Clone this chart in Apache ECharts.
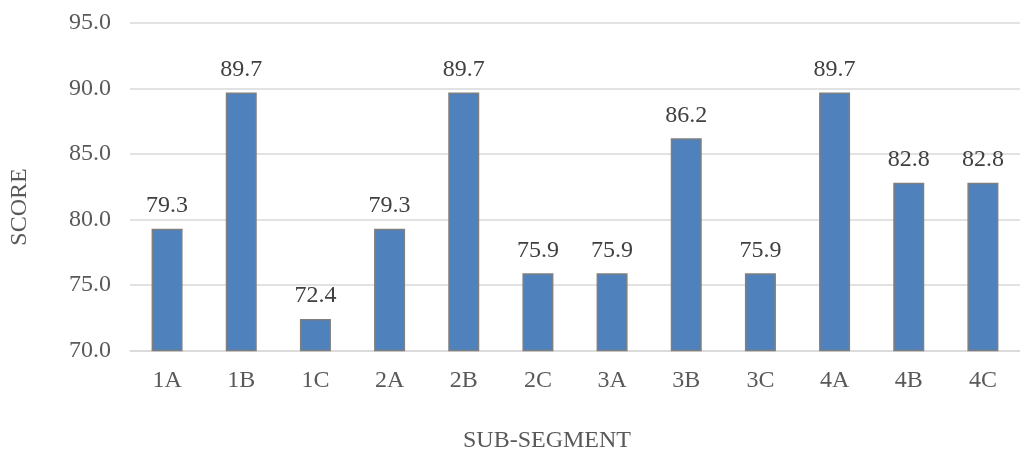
<!DOCTYPE html>
<html><head><meta charset="utf-8">
<script src="https://cdn.jsdelivr.net/npm/echarts@6/dist/echarts.min.js"></script>
<style>html,body{margin:0;padding:0;background:#fff}#c{width:1020px;height:454px}</style>
</head><body><div id="c"></div>
<script>
const categories = ['1A','1B','1C','2A','2B','2C','3A','3B','3C','4A','4B','4C'];
const scores = [79.3, 89.7, 72.4, 79.3, 89.7, 75.9, 75.9, 86.2, 75.9, 89.7, 82.8, 82.8];
const yMin = 70, yMax = 95, yStep = 5;
const font = '"Liberation Serif", "Times New Roman", serif';
const chart = echarts.init(document.getElementById('c'));
chart.setOption({
  animation: false,
  textStyle: { fontFamily: font },
  grid: { left: 130, top: 23, width: 898, height: 327.5, containLabel: false },
  xAxis: {
    type: 'category', data: categories,
    axisLine: { show: true, lineStyle: { color: '#d9d9d9', width: 1.5 } },
    axisTick: { show: false },
    axisLabel: { fontFamily: font, fontSize: 24, color: '#595959', margin: 18 }
  },
  yAxis: {
    type: 'value', min: yMin, max: yMax, interval: yStep,
    axisLine: { show: false }, axisTick: { show: false },
    splitLine: { lineStyle: { color: '#d9d9d9', width: 1.5 } },
    axisLabel: { fontFamily: font, fontSize: 24, color: '#595959', margin: 19, formatter: v => v.toFixed(1) }
  },
  graphic: [
    { type: 'text', x: 547, y: 441, style: { text: 'SUB-SEGMENT', font: '24px ' + font, fill: '#595959', align: 'center', verticalAlign: 'middle' } },
    { type: 'text', x: 20, y: 207, rotation: Math.PI / 2, style: { text: 'SCORE', font: '24px ' + font, fill: '#595959', align: 'center', verticalAlign: 'middle' } }
  ],
  series: [{
    type: 'bar', data: scores, barWidth: 31,
    itemStyle: { color: '#4f81bd', borderColor: '#7f7f7f', borderWidth: 1.5 },
    label: { show: true, position: 'top', distance: 11, fontFamily: font, fontSize: 24, color: '#404040', formatter: p => p.value.toFixed(1) }
  }]
});
</script></body></html>
